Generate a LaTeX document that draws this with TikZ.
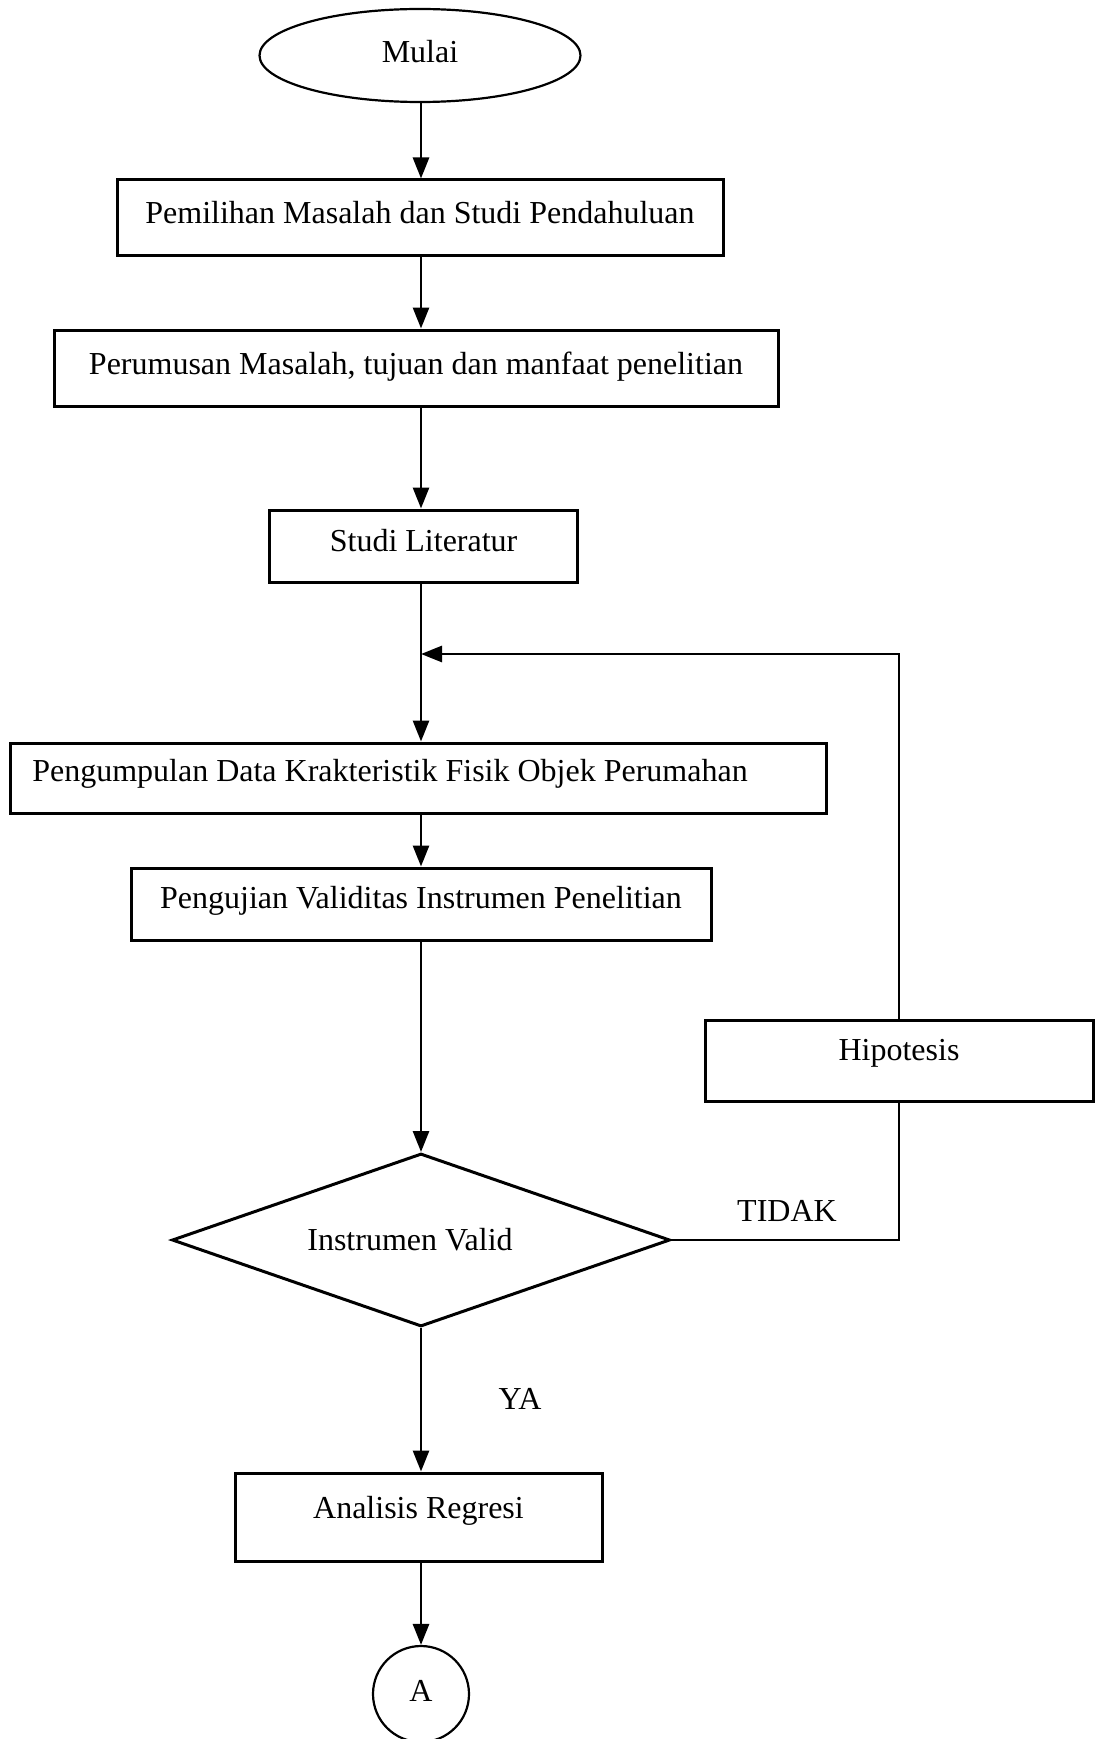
\documentclass[tikz,border=0pt]{standalone}
\usepackage{fontspec}
\setmainfont{Liberation Serif}
\usetikzlibrary{arrows.meta,shapes.geometric}
\newcommand{\liftby}[2]{\raisebox{#1}[22pt][7pt]{#2}}
\begin{document}
\begin{tikzpicture}[x=1pt,y=-1pt,line width=2.8pt,
  font=\fontsize{32}{38}\selectfont,
  every node/.style={inner sep=0pt,text height=22pt,text depth=7pt},
  box/.style={draw,rectangle,line width=3pt},
  startshape/.style={draw,ellipse,line width=2.2pt},
  decision/.style={draw,diamond,aspect=2.9,line width=3pt},
  conn/.style={draw,circle,line width=2.2pt},
  arr/.style={-{Triangle[length=21pt,width=16pt]}},
  lbl/.style={}]
\useasboundingbox (0,0) rectangle (1100,1739);
\coordinate (xl) at (421,0);

\node[startshape,minimum width=321pt,minimum height=93pt] (start) at (420,55.5) {Mulai};
\node[box,minimum width=606pt,minimum height=75pt] (b1) at (420,217.5) {\liftby{1.5pt}{Pemilihan Masalah dan Studi Pendahuluan}};
\node[box,minimum width=724pt,minimum height=76pt] (b2) at (416,368) {\liftby{1pt}{Perumusan Masalah, tujuan dan manfaat penelitian}};
\node[box,minimum width=308pt,minimum height=72pt] (b3) at (423.6,546) {\liftby{2pt}{Studi Literatur}};
\node[box,minimum width=816pt,minimum height=70pt] (b4) at (418,778) {\hspace*{-56pt}\liftby{4pt}{Pengumpulan Data Krakteristik Fisik Objek Perumahan}};
\node[box,minimum width=580pt,minimum height=72pt] (b5) at (421,904) {\liftby{3pt}{Pengujian Validitas Instrumen Penelitian}};
\node[box,minimum width=388pt,minimum height=81pt] (hip) at (899,1060.5) {\liftby{8pt}{Hipotesis}};
\node[decision,minimum width=498pt,minimum height=173pt] (dia) at (421,1240) {\hspace*{-22pt}\liftby{-3pt}{Instrumen Valid}};
\node[box,minimum width=367pt,minimum height=88pt] (b6) at (418.5,1517) {\liftby{6pt}{Analisis Regresi}};
\node[conn,minimum size=96pt] (endc) at (421,1694) {A};

\node[lbl] (tidak) at (787,1214) {TIDAK};
\node[lbl] (ya) at (520,1402) {YA};

\coordinate (join) at (421,654);

\draw[arr] (start.south -| xl) -- (b1.north -| xl);
\draw[arr] (b1.south -| xl) -- (b2.north -| xl);
\draw[arr] (b2.south -| xl) -- (b3.north -| xl);
\draw[arr] (b3.south -| xl) -- (b4.north -| xl);
\draw[arr] (b4.south -| xl) -- (b5.north -| xl);
\draw[arr] (b5.south -| xl) -- (dia.north);
\draw[arr] (dia.south) -- (b6.north -| xl);
\draw[arr] (b6.south -| xl) -- (endc.north);
\draw (dia.east) -| (hip.south);
\draw[arr] (hip.north) |- (join);
\end{tikzpicture}
\end{document}
